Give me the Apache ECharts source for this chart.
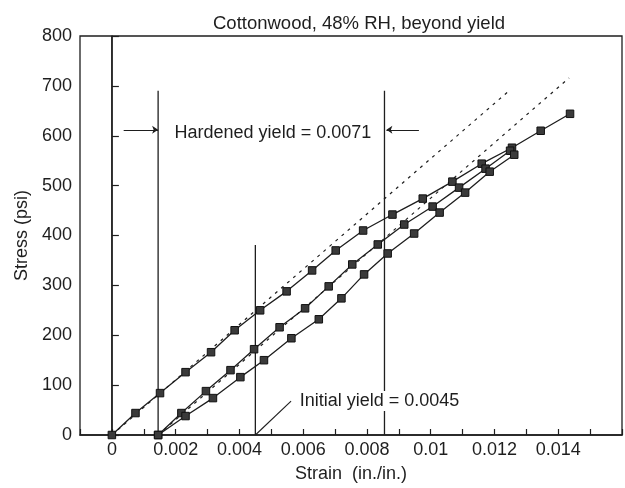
<!DOCTYPE html>
<html>
<head>
<meta charset="utf-8">
<script src="https://cdn.jsdelivr.net/npm/echarts@6/dist/echarts.min.js"></script>
<style>html,body{margin:0;padding:0;background:#fff}#c{width:625px;height:488px}</style>
</head>
<body>
<div id="c"></div>
<script>
// ---- data ----
var titleText = 'Cottonwood, 48% RH, beyond yield';
var xAxisName = 'Strain  (in./in.)';
var yAxisName = 'Stress (psi)';
var xTickLabels = ['0', '0.002', '0.004', '0.006', '0.008', '0.01', '0.012', '0.014'];
var yTickLabels = ['0', '100', '200', '300', '400', '500', '600', '700', '800'];

// initial loading curve (strain, stress)
var initialStrain = [0, 0.00074, 0.00151, 0.00231, 0.00311, 0.00385, 0.00465, 0.00548, 0.00628, 0.00702, 0.00788, 0.00880, 0.00975, 0.01068, 0.01160, 0.01255, 0.01345, 0.01437];
var initialStress = [0, 44, 84, 126, 166, 210, 250, 288, 330, 370, 410, 442, 474, 508, 544, 576, 610, 644];
// reloading curve (upper)
var reloadAStrain = [0.00145, 0.00218, 0.00295, 0.00372, 0.00446, 0.00526, 0.00606, 0.00680, 0.00754, 0.00834, 0.00917, 0.01006, 0.01089, 0.01172, 0.01249];
var reloadAStress = [0, 44, 88, 130, 172, 216, 254, 298, 342, 382, 422, 458, 496, 534, 570];
// reloading curve (lower)
var reloadBStrain = [0.00145, 0.00231, 0.00317, 0.00403, 0.00477, 0.00563, 0.00649, 0.00720, 0.00791, 0.00865, 0.00948, 0.01028, 0.01108, 0.01185, 0.01262];
var reloadBStress = [0, 38, 74, 116, 150, 194, 232, 274, 322, 364, 404, 446, 486, 528, 562];

// elastic reference lines
var elastic1 = [[0, 0], [0.01249, 692]];
var elastic2 = [[0.00145, 0], [0.01434, 716]];

// reference verticals
var originLine = [[0, 0], [0, 800]];
var hardenedStart = 0.00145;
var hardenedYield = 0.0071;
var hardenedTop = 690;
var initialYield = 0.0045;
var initialTop = 381;

var hardenedLabel = 'Hardened yield = 0.0071';
var initialLabel = 'Initial yield = 0.0045';
var hardenedLabelPos = [0.00505, 606];
var arrowStress = 612;
var leftArrow = [[0.00037, arrowStress], [hardenedStart, arrowStress]];
var rightArrow = [[0.00963, arrowStress], [hardenedStart + hardenedYield + 0.00006, arrowStress]];
var initialLeader = [[initialYield, 0], [0.00562, 68]];
var initialLabelPos = [0.00583, 68];

// ---- chart ----
function zip(a, b) { return a.map(function (v, i) { return [v, b[i]]; }); }
var FONT = '"Liberation Sans", Arial, Helvetica, sans-serif';
var INK = '#1e1e1e';

var chart = echarts.init(document.getElementById('c'), null, { renderer: 'canvas' });

var curveStyle = { color: INK, width: 1.3 };
var markerStyle = { color: '#3a3a3a', borderColor: '#111', borderWidth: 1 };

function curve(data) {
  return {
    type: 'line', data: data, symbol: 'rect', symbolSize: 7.5,
    lineStyle: curveStyle, itemStyle: markerStyle, z: 5, animation: false
  };
}
function plainLine(data, w, type) {
  return {
    type: 'line', data: data, symbol: 'none',
    lineStyle: { color: INK, width: w, type: type || 'solid' }, z: 3, animation: false
  };
}
var labelBase = {
  show: true, fontFamily: FONT, fontSize: 18, color: INK, opacity: 1,
  backgroundColor: '#fff', padding: [1, 2], position: 'inside', verticalAlign: 'middle'
};

var option = {
  backgroundColor: '#fff',
  animation: false,
  title: {
    text: titleText, left: 208, top: 9,
    textStyle: { fontFamily: FONT, fontSize: 18.5, fontWeight: 'normal', color: INK }
  },
  grid: { left: 80, top: 36, right: -8, bottom: 51, show: true, borderColor: INK, borderWidth: 1.3, backgroundColor: 'transparent' },
  xAxis: {
    type: 'value', min: -0.001, max: 0.016, interval: 0.001,
    name: xAxisName, nameLocation: 'middle', nameGap: 30,
    nameTextStyle: { fontFamily: FONT, fontSize: 18, color: INK },
    axisLine: { show: true, onZero: false, lineStyle: { color: INK, width: 1.5 } },
    axisTick: { show: true, inside: true, length: 6, lineStyle: { color: INK, width: 1.2 } },
    splitLine: { show: false },
    axisLabel: {
      fontFamily: FONT, fontSize: 18, color: INK, margin: 6, showMinLabel: true, showMaxLabel: true,
      formatter: function (v) {
        var k = Math.round(v * 1000);
        if (k < 0 || k % 2 !== 0) return '';
        var idx = k / 2;
        return idx < xTickLabels.length ? xTickLabels[idx] : '';
      }
    }
  },
  yAxis: {
    type: 'value', min: 0, max: 800, interval: 100,
    name: yAxisName, nameLocation: 'middle', nameGap: 48, nameRotate: 90,
    nameTextStyle: { fontFamily: FONT, fontSize: 18, color: INK },
    axisLine: { show: true, lineStyle: { color: INK, width: 1.5 } },
    axisTick: { show: true, inside: true, length: 7, lineStyle: { color: INK, width: 1.2 } },
    splitLine: { show: false },
    axisLabel: {
      fontFamily: FONT, fontSize: 18, color: INK, margin: 8,
      formatter: function (v) { return yTickLabels[Math.round(v / 100)]; }
    }
  },
  series: [
    plainLine(originLine, 1.3),
    plainLine([[hardenedStart, 0], [hardenedStart, hardenedTop]], 1.3),
    plainLine([[hardenedStart + hardenedYield, 0], [hardenedStart + hardenedYield, hardenedTop]], 1.3),
    plainLine([[initialYield, 0], [initialYield, initialTop]], 1.3),
    plainLine(elastic1, 1.2, [3, 5]),
    plainLine(elastic2, 1.2, [3, 5]),
    plainLine(initialLeader, 1.1),
    curve(zip(initialStrain, initialStress)),
    curve(zip(reloadAStrain, reloadAStress)),
    curve(zip(reloadBStrain, reloadBStress)),
    {
      type: 'lines', coordinateSystem: 'cartesian2d', animation: false,
      symbol: ['none', 'arrow'], symbolSize: [0, 6],
      lineStyle: { color: INK, width: 1.2, opacity: 1 },
      data: [{ coords: leftArrow }, { coords: rightArrow }], z: 4
    },
    {
      type: 'scatter', symbolSize: 1, animation: false, silent: true,
      itemStyle: { opacity: 1, color: 'rgba(0,0,0,0)' },
      emphasis: { disabled: true },
      data: [
        { value: hardenedLabelPos, label: Object.assign({}, labelBase, { align: 'center' }) },
        { value: initialLabelPos, label: Object.assign({}, labelBase, { align: 'left' }) }
      ],
      label: { show: true, formatter: function (p) { return p.dataIndex === 0 ? hardenedLabel : initialLabel; } },
      z: 10
    }
  ]
};
chart.setOption(option);
</script>
</body>
</html>
